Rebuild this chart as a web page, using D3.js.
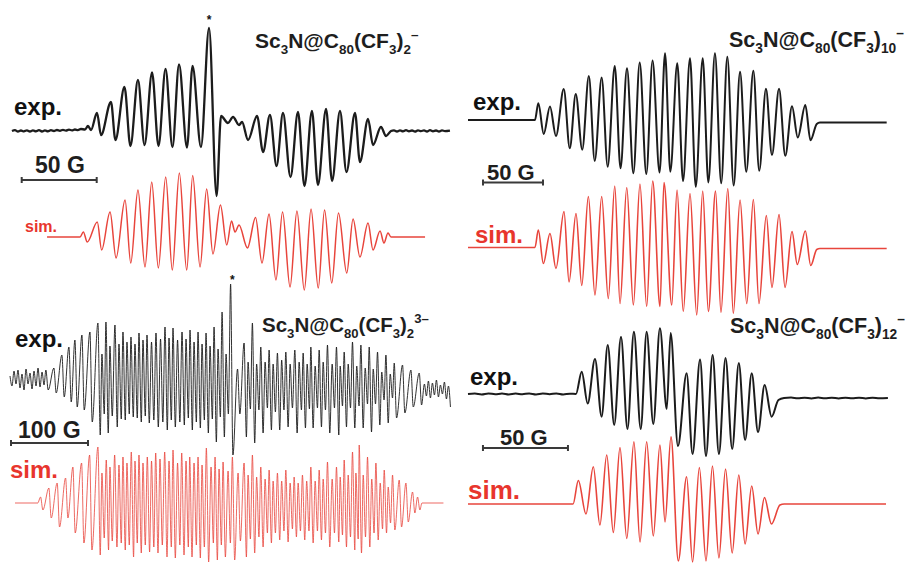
<html>

<head>
    <style>
        body { margin: 0; background: #fff; }
        svg text { font-family: "Liberation Sans", Arial, sans-serif; font-weight: bold; }
        .exp { fill: none; stroke: #1c1c1c; stroke-linejoin: round; }
        .sim { fill: none; stroke: #e8453c; stroke-linejoin: round; }
        .bar { stroke: #3a3a3a; stroke-width: 2; }
    </style>
</head>

<body>
    <svg id="figure"></svg>
</body>
<script src="https://cdn.jsdelivr.net/npm/d3@7"></script>
<script>
    let width = 913,
        height = 564;

    // extrema: [field offset (G), intensity (a.u.)]
    let p1Exp = [[1.3, 0], [3.3, 0.8], [5.3, -0.6], [7.3, 0.5], [9.3, -0.4], [11.3, 0.7], [13.3, -0.5], [15.3, 0.6], [17.3, -0.3],
        [19.3, 0.9], [21.3, -0.5], [23.3, 0.6], [25.3, -0.4], [27.3, 0.8], [29.3, 0], [31.3, 1], [33.3, 0.2], [35.3, 1.2], [37.3, 0.4],
        [39.3, 1.4], [41.3, 0.6], [43.3, 1.5], [45.3, 0.8], [47.3, 2], [50, 1.5], [52, 5], [54, 1],
        [58, 18], [60.7, -4], [67.3, 29], [70.3, -9], [76.3, 44], [80.3, -15], [85.3, 51], [89.7, -14], [94.7, 58.5], [99, -15],
        [103.7, 62], [108.3, -16], [112.7, 66.5], [118, -16.5], [121.7, 65], [127.3, -16], [132.7, 103], [137.7, -65],
        [140.7, 15], [145.3, 8], [148.7, 14], [152.7, 6], [154.7, 9], [158.7, -9], [164.7, 15], [168.7, -21], [173.3, 16], [177.7, -35],
        [182, 18], [187, -46], [192, 19], [196.3, -55], [201.3, 20], [205.3, -54], [210.7, 22], [214.7, -50], [220, 20],
        [224.3, -41], [230, 18], [233.3, -31], [238.7, 12], [242, -14], [247.3, 4], [250.7, -5],
        [254, 0], [256, 0.7], [258, -0.5], [260, 0.6], [262, -0.4], [264, 0.8], [266, -0.3], [268, 0.5], [270, -0.6], [272, 0.7],
        [274, -0.2], [276, 0.6], [278, -0.5], [280, 0.8], [282, -0.3], [284, 0.5], [286, -0.6], [288, 0.6], [290, -0.2], [293.3, 0.3]]
    let p1Sim = [[24.7, 0], [46.7, 0], [48.9, 5], [51.5, -5], [58.2, 15], [61.1, -13], [66.7, 25], [70.7, -21], [76.7, 37], [80.5, -26],
        [85.3, 47], [90, -30], [94.5, 55], [98.9, -31], [103.8, 60], [108.2, -33], [112.9, 64], [117.8, -33], [121.8, 61.5],
        [126.7, -30], [131.1, 48], [135.3, -17], [140.3, 32], [144.5, -8], [147.7, 16], [150, 5], [152.7, 12], [158.3, -11],
        [163.7, 19.5], [168, -26], [172.7, 23], [177.3, -43], [181.7, 25], [186.7, -50], [191.3, 26], [196.2, -53], [200.7, 28],
        [205.5, -51], [209.7, 27], [214.5, -46], [219, 24], [224.5, -36], [228.7, 18], [233.3, -20], [238.7, 14], [242, -13],
        [246.7, 6], [249.3, -6], [252, 4], [254, 0], [276.7, 0]]

    let p2Exp = [[0, 0], [55.8, 0], [58.6, 16.7], [63.1, -14], [68.3, 13.5], [73.3, -16], [79.8, 31], [84.8, -28.3], [89.8, 26],
        [95.2, -29.7], [100.7, 44], [105.6, -41], [111.4, 42.5], [116.4, -46.7], [122.3, 54], [127.1, -48.3], [132.5, 51.7],
        [137.8, -53.3], [143.1, 57.5], [148.6, -54], [153.8, 59.5], [159.6, -52.5], [164.2, 66.7], [168.6, -51.7], [174.4, 56.7],
        [179.2, -61], [185, 61.7], [189.8, -66.7], [195.6, 61.7], [200.3, -62.5], [205.8, 66.7], [211, -63.3], [216.1, 63.3],
        [221.4, -65.5], [226.7, 48.3], [231.9, -51.7], [237.8, 49.2], [242.7, -50.8], [248.3, 31.2], [253.3, -35], [259.2, 31.2],
        [264.4, -35.8], [270, 13.7], [274.8, -17.5], [281.1, 15], [285.4, -20.3], [290.6, -4], [293.3, -2.5], [320, -2.5], [348.9, -2.5]]
    let p2Sim = [[0, 0], [55.8, 0], [58.6, 17.5], [62.8, -16], [68.3, 14], [73.3, -21], [80, 36], [84.2, -34.5], [90, 34], [94.8, -38],
        [100.3, 51], [105.8, -47.5], [111.4, 51], [116.9, -51], [122.3, 61.5], [126.7, -56], [132.3, 60], [137.8, -57.5],
        [143.3, 63.5], [148.9, -59], [153.9, 66.5], [160, -59], [163.3, 65], [169.8, -57.5], [174.2, 57.5], [179.4, -64], [185, 54],
        [190.6, -67.5], [195.6, 56.5], [200.3, -64], [206.3, 56.5], [210.8, -65], [216.5, 59], [221.1, -66], [226.7, 47.5],
        [232.3, -56], [237.8, 48], [242.5, -56], [248.6, 32], [253.3, -40], [259.2, 33], [264.2, -40], [270, 16], [274.4, -17],
        [281.1, 16.5], [285.6, -18], [290.6, -2], [293.3, -1], [348.9, -1]]

    // dense spectrum: lines as [centre field (G), upper lobe, lower lobe]
    let p3ExpNoiseL = [[0, 8], [2.6, -2], [5.2, 13], [7.8, 0], [10.4, 14], [13, -4], [15.6, 10], [18.2, -6], [20.8, 15], [23.4, 0],
        [26, 11], [28.6, -5], [31.2, 13], [33.8, -2], [36.4, 16], [39, -3], [41.6, 12], [44.2, -1]]
    let p3ExpLines = [[48.1, 14, -6], [58.5, 16, -9], [68.9, 29, -13], [78, 37, -18], [85.8, 44, -23], [94.9, 49, -26], [105.3, 52, -38],
        [115.7, 61, -51], [126.1, 62, -49], [137.8, 59, -43], [148.2, 52, -36], [158.6, 47, -33], [169, 51, -38], [179.4, 49, -39],
        [191.1, 51, -43], [202.8, 57, -46], [213.2, 56, -43], [224.9, 52, -41], [235.3, 54, -46], [245.7, 52, -44], [256.1, 51, -49],
        [266.5, 57, -58], [276.9, 72, -53], [288, 100, -71], [305.5, 41, -53], [316.3, 61, -59], [327.2, 37, -49], [338, 34, -46],
        [348.8, 31, -46], [359.7, 32, -43], [371.4, 34, -49], [382.2, 31, -44], [392.2, 37, -44], [403, 34, -43], [413.8, 39, -49],
        [425.5, 37, -51], [435.5, 32, -43], [446.3, 42, -44], [457.2, 39, -44], [468, 37, -48], [478.8, 32, -41], [489.7, 29, -39],
        [500.5, 21, -34], [511.3, 19, -29], [522.2, 14, -23], [533, 11, -21]]
    let p3ExpMinor = [[120.9, 30, -30], [131.3, 38, -32], [143, 40, -35], [153.4, 42, -30], [163.8, 40, -34], [174.2, 44, -32],
        [185.3, 42, -36], [197, 45, -38], [208, 46, -36], [219.1, 44, -38], [230.1, 45, -34], [240.5, 42, -38], [250.9, 40, -36],
        [261.3, 38, -35], [271.7, 35, -33], [282.1, 30, -30], [297, 15, -30], [310.7, 22, -25], [321.8, 20, -26], [332.8, 22, -24],
        [343.2, 20, -28], [354.3, 24, -26], [365.3, 20, -24], [377, 22, -26], [387.4, 20, -25], [397.8, 18, -24], [408.2, 22, -26],
        [419.9, 20, -24], [430.3, 18, -22], [440.7, 20, -24], [451.8, 18, -22], [462.8, 16, -20], [473.2, 15, -20], [484.3, 12, -16],
        [495.3, 10, -14]]
    let p3ExpNoiseR = [[538.2, 0], [540.8, -12], [543.4, 3], [546, -14], [548.6, 1], [551.2, -11], [553.8, 4], [556.4, -13], [559, -1],
        [561.6, -10], [564.2, 2], [566.8, -15], [569.4, -2], [572, -23]]
    let p3SimEnds = [[6.5, 0], [36, 0], [535, 0], [562.9, 0]]
    let p3SimLines = [[41.2, 6, -7], [52, 15, -15], [62.8, 20, -24], [73.7, 25, -15], [83.2, 36, -30], [94.5, 40, -40], [104.9, 48, -47],
        [115.7, 56, -52], [126.5, 43, -47], [137.4, 48, -44], [148.2, 46, -47], [159, 51, -54], [169, 48, -50], [179.8, 46, -49],
        [190.7, 50, -50], [202.4, 51, -54], [213.2, 53, -55], [224.5, 50, -52], [234.9, 46, -54], [245.7, 46, -55], [256.5, 55, -59],
        [267.8, 46, -57], [278.2, 41, -54], [290.3, 46, -57], [305.5, 40, -54], [316.3, 48, -50], [327.2, 36, -44], [338, 33, -40],
        [348.8, 30, -37], [359.7, 33, -39], [370.5, 26, -34], [381.3, 28, -37], [392.2, 36, -40], [403, 33, -37], [413.8, 41, -44],
        [425.5, 36, -39], [435.5, 43, -44], [446.3, 51, -47], [455, 58, -50], [465.8, 46, -44], [476.7, 40, -37], [487.5, 33, -30],
        [498.3, 28, -27], [507, 23, -24], [515.7, 20, -19], [524.3, 11, -10], [530.8, 6, -7]]
    let p3SimMinor = [[120.9, 30, -35], [131.3, 36, -38], [143, 38, -40], [153.4, 40, -42], [163.8, 42, -40], [174.2, 40, -42],
        [185.3, 42, -44], [196.3, 44, -42], [208, 42, -44], [219.1, 40, -42], [230.1, 42, -44], [240.5, 40, -42], [250.9, 38, -44],
        [262.6, 36, -40], [273, 34, -42], [284.7, 32, -40], [297.7, 30, -38], [310.7, 28, -36], [321.8, 26, -34], [332.8, 24, -30],
        [343.2, 22, -30], [354.3, 22, -28], [365.3, 20, -26], [375.7, 20, -28], [386.8, 22, -28], [397.8, 22, -28], [408.2, 24, -30],
        [419.9, 24, -30], [430.3, 26, -32], [440.7, 28, -34], [450.7, 30, -36], [460.2, 28, -34], [471.3, 24, -30], [482.3, 20, -26],
        [492.7, 16, -20]]

    let p4Exp = [[0, 0], [4, 0.5], [8, -0.4], [12, 0.6], [16, -0.3], [20, 0.5], [24, -0.5], [28, 0.4], [32, -0.3], [36, 0.6],
        [40, -0.4], [44, 0.5], [48, -0.2], [52, 0.6], [56, -0.4], [60, 0.3], [63.5, 0], [66.9, 22.3], [70.4, -9.5], [74.7, 35],
        [78.6, -22.7], [82.2, 49], [86, -31], [90, 57.3], [93.8, -35], [97.6, 62.3], [101.6, -35], [105.1, 62.3], [109, -30],
        [112.9, 65.7], [116.9, -15], [119.2, 61], [123.5, -52], [128.6, 20.7], [132.1, -60], [136.5, 34.5], [140, -62], [143.9, 39],
        [147.6, -60], [151.5, 36], [155.4, -55], [159.3, 31], [163, -46], [166.9, 20.7], [170.6, -38], [174.5, 9], [178.6, -22.7],
        [182.6, -6], [185.9, -4], [190, -3.6], [194, -4.3], [198, -3.7], [202, -4.4], [206, -3.6], [210, -4.2], [214, -3.8],
        [218, -4.4], [222, -3.7], [226, -4.3], [230, -3.8], [234, -4.4], [238, -3.7], [242, -4.2], [247, -4]]
    let p4Sim = [[0, 0], [61.8, 0], [64.9, 23.5], [69.4, -10], [73.7, 37.3], [77.6, -21], [81.6, 49], [85.5, -28.5], [89.4, 56.5],
        [93.4, -34.5], [97.6, 62.3], [101.2, -38], [105.1, 62.3], [109, -32], [112.9, 59], [115.9, -18], [119.4, 67.3], [123.7, -57],
        [128.6, 27.3], [132.1, -58], [136.1, 36.5], [140, -57], [143.8, 38], [147.6, -54], [151.5, 35], [155.4, -49], [159.3, 29],
        [163, -40], [166.9, 18], [170.6, -30], [174.4, 6.5], [178.5, -20], [183.5, -1], [186, 0], [245.9, 0]]

    function spikes(lines, w) {
        return lines.flatMap(d => [[d[0] - w, d[1]], [d[0] + w, d[2]]])
    }
    let byField = (a, b) => a[0] - b[0]
    let p3Exp = p3ExpNoiseL.concat(spikes(p3ExpLines, 1.5), spikes(p3ExpMinor, 1.5), p3ExpNoiseR).sort(byField)
    let p3Sim = p3SimEnds.concat(spikes(p3SimLines, 1.5), spikes(p3SimMinor, 1.5)).sort(byField)

    // formula pieces: 0 normal, 1 subscript, 2 superscript
    let title2m = [["Sc", 0], ["3", 1], ["N@C", 0], ["80", 1], ["(CF", 0], ["3", 1], [")", 0], ["2", 1], ["\u2013", 2]]
    let title10 = [["Sc", 0], ["3", 1], ["N@C", 0], ["80", 1], ["(CF", 0], ["3", 1], [")", 0], ["10", 1], ["\u2013", 2]]
    let title2t = [["Sc", 0], ["3", 1], ["N@C", 0], ["80", 1], ["(CF", 0], ["3", 1], [")", 0], ["2", 1], ["3\u2013", 2]]
    let title12 = [["Sc", 0], ["3", 1], ["N@C", 0], ["80", 1], ["(CF", 0], ["3", 1], [")", 0], ["12", 1], ["\u2013", 2]]

    let panels = [
        { exp: p1Exp, sim: p1Sim, x0: 10, gPx: 1.5, expY: 131, simY: 237, expW: 2.3, simW: 1.5, title: title2m, titleAt: [255, 48, 21],
          expAt: [14, 115, 24], simAt: [25, 232, 16], bar: [7.8, 50], barY: 180, barText: "50 G", barTextAt: [35, 173, 23], star: [132.7, 24] },
        { exp: p2Exp, sim: p2Sim, x0: 468, gPx: 1.2, expY: 120, simY: 247.5, expW: 2, simW: 1.6, title: title10, titleAt: [729, 47, 21.5],
          expAt: [473, 110, 24], simAt: [475, 243, 24], bar: [12.5, 50], barY: 182.5, barText: "50 G", barTextAt: [487, 180, 22] },
        { exp: p3Exp, sim: p3Sim, x0: 10, gPx: 0.77, expY: 384, simY: 503, expW: 1, simW: 1, expOpacity: 0.9, simOpacity: 0.8,
          title: title2t, titleAt: [262, 332, 20.5],
          expAt: [15, 347, 24], simAt: [10, 478, 24], bar: [1.3, 100], barY: 443, barText: "100 G", barTextAt: [18, 438, 23], star: [288.6, 284] },
        { exp: p4Exp, sim: p4Sim, x0: 468, gPx: 1.7, expY: 394, simY: 504, expW: 2, simW: 1.6, title: title12, titleAt: [730, 333, 21.5],
          expAt: [470, 385, 24], simAt: [468, 499, 26], bar: [8.8, 50], barY: 448, barText: "50 G", barTextAt: [500, 445, 22] }
    ]

    let svg = d3.select("#figure").attr("width", width).attr("height", height)

    function formula(g, at, parts) {
        let [x, y, size] = at
        let t = g.append("text").attr("x", x).attr("y", y).attr("font-size", size).attr("fill", "#1e1e1e")
        let shift = 0
        parts.forEach(([s, k]) => {
            let target = k == 1 ? 0.28 : k == 2 ? -0.42 : 0
            t.append("tspan")
                .attr("dy", ((target - shift) * size).toFixed(2))
                .attr("font-size", k ? size * 0.64 : size)
                .text(s)
            shift = target
        })
    }

    function label(g, at, txt, color) {
        g.append("text").attr("x", at[0]).attr("y", at[1]).attr("font-size", at[2]).attr("fill", color).text(txt)
    }

    panels.forEach(p => {
        let g = svg.append("g")
        let x = d3.scaleLinear().domain([0, 100]).range([p.x0, p.x0 + 100 * p.gPx])
        let yExp = d3.scaleLinear().domain([-100, 100]).range([p.expY + 100, p.expY - 100])
        let ySim = d3.scaleLinear().domain([-100, 100]).range([p.simY + 100, p.simY - 100])
        let line = ys => d3.line().x(d => x(d[0])).y(d => ys(d[1])).curve(d3.curveMonotoneX)

        g.append("path").datum(p.sim).attr("class", "sim").attr("stroke-width", p.simW)
            .attr("stroke-opacity", p.simOpacity || 1).attr("d", line(ySim))
        g.append("path").datum(p.exp).attr("class", "exp").attr("stroke-width", p.expW)
            .attr("stroke-opacity", p.expOpacity || 1).attr("d", line(yExp))

        let x1 = x(p.bar[0]), x2 = x(p.bar[0] + p.bar[1])
        g.append("line").attr("class", "bar").attr("x1", x1).attr("x2", x2).attr("y1", p.barY).attr("y2", p.barY)
        g.selectAll("line.tick").data([x1, x2]).enter().append("line").attr("class", "bar tick")
            .attr("stroke-width", 1.5)
            .attr("x1", d => d).attr("x2", d => d).attr("y1", p.barY - 3).attr("y2", p.barY + 3)

        label(g, p.barTextAt, p.barText, "#1e1e1e")
        label(g, p.expAt, "exp.", "#111")
        label(g, p.simAt, "sim.", "#e8352d")
        formula(g, p.titleAt, p.title)

        if (p.star) {
            g.append("text").attr("x", x(p.star[0])).attr("y", p.star[1]).attr("text-anchor", "middle")
                .attr("font-size", 12).attr("fill", "#111").text("*")
        }
    })
</script>

</html>
